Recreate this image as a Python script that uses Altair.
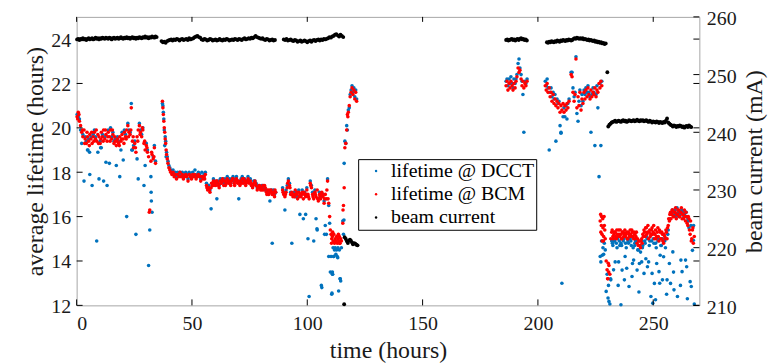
import altair as alt
import pandas as pd

# ---------------- data ----------------
# lifetime samples: (time [h], lifetime @ BCM [h], lifetime @ DCCT [h])
seg1 = [
    (0.2,20.5,20.6),(0.7,20.7,20.5),(1.2,20.3,20.4),(1.7,20.1,19.9),(2.2,19.8,19.3),(2.7,19.6,19.7),(3.2,19.9,17.6),(3.7,19.5,19.6),(4.2,19.3,19.4),(4.7,19.6,19.0),
    (5.2,19.4,19.5),(5.7,19.7,17.9),(6.2,19.5,19.6),(6.7,19.3,17.4),(7.2,19.6,19.7),(7.7,19.8,19.9),(8.2,19.5,19.6),(8.7,19.4,14.9),(9.2,19.7,18.9),(9.7,19.6,17.7),
    (10.2,19.3,19.4),(10.7,19.8,19.1),(11.2,19.6,19.7),(11.7,19.9,17.6),(12.2,19.5,19.6),(12.7,19.7,18.45),(13.2,19.4,17.4),(13.7,19.8,19.9),(14.2,19.6,18.4),(14.7,19.9,20.0),
    (15.2,19.5,19.6),(15.7,19.7,19.8),(16.2,19.3,19.4),(16.7,19.4,19.5),(17.2,19.2,18.3),(17.7,19.5,19.6),(18.2,19.3,19.4),(18.7,19.6,17.8),(19.2,19.4,19.0),(19.7,19.7,19.8),
    (20.2,19.5,18.55),(20.7,19.8,19.9),(21.2,19.6,19.7),(21.7,19.9,16.0),(22.2,20.1,20.2),(22.7,19.8,19.9),(23.2,19.7,19.8),(23.7,20.9,21.1),(24.2,19.4,19.0),(24.7,19.1,19.2),
    (25.2,19.3,19.4),(25.7,18.9,15.2),(26.2,19.6,18.6),(26.7,19.9,17.7),(27.2,20.1,20.2),(27.7,19.8,19.9),(28.2,19.6,19.7),(28.7,19.9,20.0),(29.2,19.3,17.4),(29.7,19.0,18.3),
    (30.2,19.2,19.3),(30.7,18.9,19.0),(31.2,18.7,13.8),(31.7,16.3,15.4),(32.2,18.5,17.8),(32.7,18.8,16.2),(33.2,18.6,18.7),(33.7,19.1,19.2),(34.2,18.4,18.5),
]
seg2 = [
    (37.2,21.2,21.1),(37.4,20.9,21.0),(37.6,20.6,20.7),(37.8,20.3,20.4),(38.0,20.0,19.9),(38.2,19.8,19.2),(38.4,19.5,19.6),(38.6,19.3,19.4),(38.8,19.0,18.7),(39.0,18.8,18.9),
    (39.3,18.6,18.7),(39.6,18.4,18.5),(40.0,18.2,18.3),(40.4,18.1,18.2),(40.8,18.0,18.1),(41.3,17.9,18.0),(41.8,18.0,18.1),(42.3,17.8,17.9),(42.8,17.9,18.0),(43.3,17.7,17.8),
    (43.8,17.9,18.0),(44.3,17.8,17.9),(44.8,18.0,18.0),(45.3,17.8,17.9),(45.8,17.9,18.0),(46.3,17.7,17.8),(46.8,17.8,17.9),(47.3,17.9,18.0),(47.8,17.8,17.9),(48.3,17.6,17.7),
    (48.8,17.9,18.0),(49.3,17.8,17.9),(49.8,17.7,17.8),(50.3,17.9,18.0),(50.8,17.8,17.9),(51.3,17.9,18.1),(51.8,17.7,17.8),(52.3,17.8,17.9),(52.8,17.9,18.0),(53.3,17.8,17.9),
    (53.8,17.6,17.7),(54.3,17.8,18.0),(54.8,17.7,17.8),
]
seg3 = [
    (55.3,17.8,17.9),(55.8,17.9,18.0),(56.3,17.4,17.5),(56.8,17.2,17.3),(57.3,17.3,17.4),(57.8,17.1,17.2),(58.3,17.3,16.35),(58.8,17.4,17.5),(59.3,17.6,17.7),(59.8,17.5,17.6),
    (60.3,17.4,17.5),(60.8,17.6,16.8),(61.3,17.5,17.6),(61.8,17.3,17.4),(62.3,17.6,17.7),(62.8,17.5,17.6),(63.3,17.7,17.7),(63.8,17.4,17.5),(64.3,17.6,17.7),(64.8,17.5,17.5),
    (65.3,17.7,17.8),(65.8,17.5,17.6),(66.3,17.6,17.7),(66.8,17.4,17.5),(67.3,17.6,17.7),(67.8,17.7,17.8),(68.3,17.5,17.6),(68.8,17.6,17.7),(69.3,17.7,17.8),(69.8,17.5,17.6),
    (70.3,17.6,16.8),(70.8,17.4,17.5),(71.3,17.6,17.7),(71.8,17.7,17.8),(72.3,17.5,17.6),(72.8,17.6,17.7),(73.3,17.4,17.5),(73.8,17.6,17.6),(74.3,17.7,17.8),(74.8,17.5,17.6),
    (75.3,17.6,17.7),(75.8,17.4,17.4),(76.3,17.3,17.4),(76.8,17.5,17.6),(77.3,17.6,17.6),(77.8,17.4,17.5),(78.3,17.2,17.3),(78.8,17.3,17.4),(79.3,17.4,17.3),(79.8,17.2,17.3),
    (80.3,17.3,17.4),(80.8,17.4,17.4),(81.3,17.2,17.3),(81.8,17.3,17.2),(82.3,17.1,17.2),(82.8,17.2,17.1),(83.3,17.0,17.1),(83.8,17.1,16.7),(84.3,17.2,17.2),(84.8,17.0,14.8),
    (85.3,17.1,17.2),(85.8,16.9,17.0),(86.3,17.1,17.1),
    (89.3,17.2,17.3),(89.8,17.0,17.1),(90.3,16.9,16.3),(90.8,17.1,17.2),(91.3,17.3,17.4),(91.8,17.6,17.7),(92.3,17.4,17.5),(92.8,17.0,17.1),(93.3,17.1,14.8),(93.8,16.9,17.0),
    (94.3,17.0,17.1),(94.8,17.2,16.9),(95.3,17.0,17.1),(95.8,16.8,16.9),(96.3,17.1,17.2),(96.8,17.0,16.1),(97.3,16.9,17.0),(97.8,17.1,17.2),(98.3,16.8,15.9),(98.8,17.0,17.1),
    (99.3,16.9,16.1),(99.8,17.2,17.3),(100.3,17.0,15.0),(100.8,16.8,12.4),(101.3,17.5,17.6),(101.8,17.3,17.4),(102.3,17.0,17.1),(102.8,16.8,14.9),(103.3,17.1,17.2),(103.8,16.9,15.9),
    (104.3,17.2,15.4),(104.8,16.7,16.8),(105.3,17.0,17.1),(105.8,16.8,16.9),(106.3,17.1,12.8),(106.8,16.9,17.0),(107.3,16.6,16.7),(107.8,17.0,15.6),(108.3,16.8,15.2),(108.8,17.6,17.7),
    (109.3,16.6,16.5),(109.7,16.0,15.7),(110.0,15.4,13.5),(110.3,15.2,14.2),(110.6,15.0,12.5),(110.9,15.1,13.4),(111.2,14.9,14.6),(111.5,15.2,14.2),(111.8,14.8,14.5),(112.1,15.0,14.6),
    (112.4,14.9,14.3),(112.7,15.1,14.5),(113.0,14.8,14.2),(113.3,15.0,14.6),(113.6,14.9,12.65),(113.9,15.1,14.5),(114.2,14.8,13.2),(114.5,15.0,13.1),(114.8,14.9,14.6),
]
rise = [
    (115.4,15.7,15.8),(115.7,16.5,15.2),(116.0,17.3,18.4),(116.3,19.1,19.4),(116.7,19.3,19.3),(117.1,19.9,20.1),(117.4,20.6,19.9),(117.8,20.7,20.8),(118.2,21.0,20.9),(118.6,21.4,21.5),
    (119.0,21.6,21.7),(119.4,21.8,21.9),(119.8,21.5,21.6),(120.2,21.7,21.8),(120.6,21.3,21.4),(121.0,21.6,21.7),(121.4,21.2,21.3),
]
seg4 = [
    (186.2,21.9,22.1),(186.6,22.1,22.2),(187.0,21.7,21.9),(187.5,22.0,22.2),(187.9,21.8,22.0),(188.3,22.1,22.3),(188.8,21.9,22.0),(189.2,21.7,21.8),(189.6,22.0,22.2),(190.1,21.8,22.0),
    (190.5,22.1,22.2),(190.9,22.3,22.4),(191.4,22.7,22.9),(191.8,22.5,23.1),(192.2,22.6,22.7),(192.7,22.2,22.4),(193.1,21.9,22.1),(193.5,22.1,21.5),(193.9,21.8,19.8),(194.4,22.0,22.1),
    (194.8,21.9,22.0),(195.3,22.1,22.2),
]
seg5 = [
    (203.2,21.9,22.1),(203.6,21.7,21.9),(204.0,22.0,22.2),(204.4,21.6,21.8),(204.9,21.8,19.0),(205.3,21.4,21.6),(205.7,21.6,21.8),(206.1,21.2,21.4),(206.6,21.5,21.6),(207.0,21.1,21.3),
    (207.4,21.3,21.5),(207.8,21.0,19.4),(208.3,21.2,21.3),(208.7,20.9,21.1),(209.1,21.1,21.2),(209.6,20.7,20.1),(210.0,21.0,19.8),(210.4,20.8,13.0),(210.9,21.1,20.5),(211.3,20.7,20.9),
    (211.7,21.0,20.5),(212.2,20.8,21.0),(212.6,21.1,20.4),(213.0,20.9,21.1),(213.5,21.2,21.3),
]
seg6 = [
    (214.4,22.4,22.5),(214.8,22.3,22.5),(215.2,21.6,21.8),(215.7,21.2,21.4),(216.1,21.5,21.6),(216.5,23.1,23.2),(216.9,20.9,20.65),(217.4,21.4,20.3),(217.8,21.0,21.2),(218.2,21.6,21.7),
    (218.7,20.8,21.0),(219.1,21.3,21.5),(219.5,21.1,21.2),(220.0,21.6,21.7),(220.4,21.3,21.5),(220.8,21.7,21.8),(221.3,21.4,21.6),(221.7,21.8,21.9),(222.1,21.5,21.6),(222.6,21.3,21.4),
    (223.0,21.7,19.8),(223.4,21.4,21.5),(223.9,21.6,21.8),(224.3,21.5,21.6),(224.7,21.8,19.2),(225.2,21.4,21.5),(225.6,21.7,21.9),(226.0,21.6,20.9),(226.5,22.0,17.8),(226.9,21.8,22.0),
    (227.3,22.1,19.2),(227.7,21.9,22.1),
]
seg7 = [
    (227.0,15.8,14.2),(227.3,15.3,13.96),(227.6,16.0,14.9),(227.9,14.9,14.26),(228.2,15.5,14.6),(228.5,15.1,14.3),(228.8,15.6,14.8),(229.2,15.0,14.5),(229.6,14.0,12.63),(230.0,13.6,13.4),
    (230.4,13.2,12.33),(230.8,13.8,12.18),(231.2,13.4,12.06),(231.6,15.0,13.15),(232.0,15.3,14.9),(232.5,15.1,14.7),(233.0,15.2,14.9),(233.5,15.3,13.96),(234.0,15.0,14.8),(234.5,15.2,15.0),
    (235.0,15.4,13.96),(235.5,15.1,14.7),(236.0,15.2,12.03),(236.5,15.0,13.59),(237.0,15.3,14.9),(237.5,15.2,13.15),(238.0,15.1,14.8),(238.5,15.3,13.67),(239.0,15.0,14.9),(239.5,15.2,12.85),
    (240.0,15.4,15.0),(240.5,15.1,14.7),(241.0,15.3,13.89),(241.5,15.0,14.04),(242.0,15.2,14.8),(242.5,15.1,14.9),(243.0,14.8,13.59),(243.5,14.7,14.5),(244.0,14.9,13.89),(244.5,14.6,14.4),
    (245.0,15.0,13.96),(245.5,15.2,14.7),(246.0,15.4,13.44),(246.5,15.1,14.8),(247.0,15.5,15.1),(247.5,15.3,13.74),(248.0,15.0,13.96),(248.5,15.4,14.9),(249.0,15.2,12.40),(249.5,15.5,13.44),
    (250.0,15.3,15.0),(250.5,15.0,12.99),(251.0,15.4,12.25),(251.5,15.1,13.89),(252.0,15.5,14.9),(252.5,14.9,13.52),(253.0,15.3,14.26),(253.5,15.0,14.7),(254.0,15.2,13.15),(254.5,14.8,14.19),
    (255.0,15.1,14.9),(255.5,15.4,15.0),(256.0,15.0,13.15),(256.5,15.6,15.4),(257.0,15.8,13.89),(257.5,16.2,12.99),(258.0,16.1,16.2),(258.5,16.3,14.41),(259.0,16.0,12.70),(259.5,16.2,16.3),
    (260.0,15.9,16.0),(260.5,16.1,12.40),(261.0,16.3,16.2),(261.5,16.0,16.1),(262.0,16.2,14.04),(262.5,15.9,13.52),(263.0,16.1,16.2),(263.5,16.3,16.1),(264.0,15.8,14.04),(264.5,16.0,13.74),
    (265.0,15.6,15.9),(265.5,15.9,15.5),(266.0,15.2,13.07),(266.5,14.9,12.85),(267.0,15.4,14.48),(267.4,14.8,14.93),(267.8,15.1,12.06),
]
# extra single readings (time, lifetime)
bcm_extra = [
    (0.45,20.4),(1.0,20.6),(2.5,19.9),(3.5,19.3),(4.5,19.8),(5.5,19.2),(6.5,19.8),(7.5,19.4),(8.5,19.9),(9.5,19.3),
    (10.5,19.5),(11.5,19.4),(12.5,19.9),(13.5,19.6),(14.5,19.4),(15.5,19.9),(16.5,19.6),(17.5,19.4),(18.5,19.2),(19.5,19.5),
    (20.5,19.3),(21.5,19.5),(22.5,19.6),(23.5,19.9),(24.5,19.6),(25.5,19.1),(26.5,19.4),(27.5,19.7),(28.5,20.0),(29.5,19.4),
    (30.5,19.1),(31.5,16.2),(32.5,18.9),(33.5,18.7),
    (55.5,17.7),(56.5,17.3),(57.5,17.2),(58.5,17.5),(59.5,17.4),(60.5,17.6),(61.5,17.4),(62.5,17.5),(63.5,17.6),(64.5,17.4),
    (65.5,17.6),(66.5,17.5),(67.5,17.7),(68.5,17.4),(69.5,17.6),(70.5,17.5),(71.5,17.5),(72.5,17.7),(73.5,17.5),(74.5,17.6),
    (75.5,17.5),(76.5,17.4),(77.5,17.5),(78.5,17.3),(79.5,17.3),(80.5,17.2),(81.5,17.4),(82.5,17.0),(83.5,17.2),(84.5,17.1),
    (85.5,17.0),(86.0,17.2),(89.5,17.1),(90.5,17.0),(91.5,17.5),(92.5,17.3),(93.5,17.0),(94.5,16.9),(95.5,17.1),(96.5,16.9),
    (97.5,17.0),(98.5,17.1),(99.5,17.0),(100.5,16.9),(101.5,17.4),(102.5,16.9),(103.5,17.0),(104.5,16.8),(105.5,16.9),(106.5,17.0),
    (107.5,16.8),(108.5,17.2),(109.0,16.8),
    (110.5,14.8),(111.0,15.3),(112.0,14.9),(113.5,15.2),(114.0,14.8),(115.5,16.3),(117.6,20.5),
    (227.2,16.1),(227.5,15.6),(227.8,15.2),(228.1,15.9),(228.4,14.9),(228.7,16.0),(229.0,15.4),(230.2,13.2),(230.5,13.9),(230.7,13.5),
    (232.2,15.4),(232.7,15.0),(233.2,15.3),(233.7,15.1),(234.2,15.4),(234.7,15.1),(235.2,15.2),(235.7,15.4),(236.2,15.0),(236.7,15.3),
    (237.2,15.1),(237.7,15.4),(238.2,15.2),(238.7,15.0),(239.2,15.3),(239.7,15.1),(240.2,15.2),(240.7,15.4),(241.2,15.1),(241.7,15.3),
    (242.2,15.0),(242.7,15.3),(243.2,15.0),(243.7,14.9),(244.2,14.7),(244.7,14.9),(245.2,14.8),(245.7,15.1),(246.2,15.3),(246.7,15.5),
    (247.2,15.2),(247.7,15.6),(248.2,15.3),(248.7,15.1),(249.2,15.4),(249.7,15.2),(250.2,15.6),(250.7,15.2),(251.2,15.0),(251.7,15.3),
    (252.2,15.1),(252.7,15.4),(253.2,15.0),(253.7,15.3),(254.2,14.9),(254.7,15.2),(255.2,15.0),(255.7,15.3),(256.2,15.5),(256.7,15.9),
    (257.2,16.1),(257.7,15.9),(258.2,16.3),(258.7,16.0),(259.2,16.2),(259.7,16.4),(260.2,16.1),(260.7,16.3),(261.2,16.0),(261.7,16.2),
    (262.2,16.4),(262.7,16.1),(263.2,15.9),(263.7,16.0),(264.2,16.2),(264.7,15.7),(265.2,16.0),(265.7,15.4),(266.2,15.8),(266.7,15.0),
    (267.2,15.5),
]
dcct_extra = [
    (32.3,17.1),(32.4,16.7),(5.6,18.9),(10.4,19.1),(23.9,19.0),(4.9,19.0),(107.5,15.2),(110.7,12.55),(111.0,13.4),(114.3,13.2),
    (109.3,14.2),(111.4,14.2),(113.2,14.15),(104.2,15.45),(106.1,12.9),(110.9,13.5),(115.9,15.85),(210.0,19.76),
    (233.0,15.0),(236.0,14.8),(239.0,15.0),(242.0,14.7),(245.0,14.9),(248.0,15.0),(251.0,14.8),(254.0,15.0),(231.5,13.2),(230.6,12.9),
    (232.3,14.8),(233.3,14.9),(234.3,14.6),(235.3,14.9),(236.3,14.7),(237.3,15.0),(238.3,14.6),(239.3,14.8),(240.3,14.9),(241.3,14.6),
    (242.3,14.9),(243.3,14.5),(244.3,14.7),(245.3,14.6),(246.3,14.9),(247.3,15.0),(248.3,14.7),(249.3,14.9),(250.3,14.8),(251.3,14.6),
    (252.3,15.0),(253.3,14.7),(254.3,14.9),(255.3,14.6),(256.3,15.2),(257.3,15.9),(258.3,16.3),(259.3,16.1),(260.3,16.4),(261.3,16.0),
    (262.3,16.3),(263.3,16.0),(264.3,16.2),(265.3,15.8),(266.3,15.6),
    (232.8,13.6),(234.8,12.9),(237.8,14.2),(240.8,13.3),(243.8,12.6),(246.8,14.1),(249.8,12.1),(252.8,13.0),(255.8,12.5),(258.8,13.5),
    (261.8,12.9),(264.8,12.3),(267.5,15.6),
]
# beam current samples: (time [h], current [mA])
beam_a = [
    (0.2,256.1),(0.7,256.2),(1.2,256.0),(1.7,256.2),(2.2,256.1),(2.7,256.3),(3.2,256.1),(3.7,256.2),(4.2,256.0),(4.7,256.2),
    (5.2,256.3),(5.7,256.1),(6.2,256.2),(6.7,256.3),(7.2,256.1),(7.7,256.2),(8.2,256.4),(8.7,256.2),(9.2,256.3),(9.7,256.1),
    (10.2,256.3),(10.7,256.2),(11.2,256.4),(11.7,256.3),(12.2,256.2),(12.7,256.4),(13.2,256.3),(13.7,256.2),(14.2,256.4),(14.7,256.3),
    (15.2,256.1),(15.7,256.3),(16.2,256.4),(16.7,256.2),(17.2,256.3),(17.7,256.4),(18.2,256.2),(18.7,256.3),(19.2,256.5),(19.7,256.3),
    (20.2,256.2),(20.7,256.4),(21.2,256.3),(21.7,256.5),(22.2,256.3),(22.7,256.4),(23.2,256.2),(23.7,256.4),(24.2,256.5),(24.7,256.3),
    (25.2,256.4),(25.7,256.2),(26.2,256.4),(26.7,256.3),(27.2,256.5),(27.7,256.4),(28.2,256.3),(28.7,256.5),(29.2,256.4),(29.7,256.6),
    (30.2,256.4),(30.7,256.5),(31.2,256.3),(31.7,256.5),(32.2,256.4),(32.7,256.6),(33.2,256.5),(33.7,256.4),(34.2,256.6),(34.7,256.5),
]
beam_b = [
    (36.8,255.8),(37.4,255.6),(38.0,255.7),(38.6,255.5),(39.2,255.8),(39.8,255.9),
    (40.4,256.0),(41.0,256.1),(41.6,255.9),(42.2,256.1),(42.8,256.0),(43.4,256.2),(44.0,256.1),(44.6,255.9),(45.2,256.1),(45.8,256.2),
    (46.4,256.0),(47.0,256.1),(47.6,256.2),(48.2,256.0),(48.8,256.3),(49.4,256.1),(50.0,256.2),(50.6,256.3),
    (51.2,256.5),(51.8,256.6),(52.4,256.7),(53.0,256.5),(53.6,256.4),
    (54.2,256.1),(54.8,256.0),(55.4,256.2),(56.0,256.1),(56.6,255.9),(57.2,256.0),(57.8,256.2),(58.4,256.1),(59.0,255.9),(59.6,256.0),
    (60.2,256.1),(60.8,255.9),(61.4,256.0),(62.0,256.2),(62.6,256.0),(63.2,255.9),(63.8,256.1),(64.4,256.0),(65.0,256.2),(65.6,256.1),
    (66.2,255.9),(66.8,256.0),(67.4,256.1),(68.0,256.0),(68.6,256.2),(69.2,256.1),(69.8,256.0),(70.4,256.2),(71.0,256.1),(71.6,256.0),
    (72.2,256.2),(72.8,256.3),(73.4,256.1),(74.0,256.2),
    (74.6,256.3),(75.2,256.2),(75.8,256.4),(76.4,256.3),(77.0,256.5),(77.6,256.7),(78.2,256.5),(78.8,256.4),(79.4,256.3),(80.0,256.2),(80.6,256.3),
    (81.2,256.1),(81.8,256.0),(82.4,256.2),(83.0,256.1),(83.6,255.9),(84.2,256.0),(84.8,256.1),(85.4,255.9),(86.0,256.0),
    (89.8,256.1),(90.4,256.0),(91.0,256.2),(91.6,255.9),(92.2,256.0),(92.8,256.1),(93.4,255.9),(94.0,255.8),(94.6,256.0),(95.2,255.9),
    (95.8,255.7),(96.4,255.8),(97.0,255.9),(97.6,255.7),(98.2,255.8),(98.8,255.9),(99.4,255.8),(100.0,255.6),(100.6,255.8),(101.2,255.9),
    (101.8,255.7),(102.4,255.9),(103.0,256.0),(103.6,255.8),(104.2,256.0),(104.8,256.1),(105.4,255.9),(106.0,256.1),(106.6,256.0),(107.2,256.2),
    (107.8,256.1),(108.4,256.2),
    (109.0,256.3),(109.6,256.5),(110.2,256.4),(110.8,256.6),(111.4,256.7),(112.0,256.9),(112.6,257.0),(113.2,256.8),(113.8,256.6),(114.4,256.9),
    (115.0,256.7),(115.6,256.5),
]
beam_c = [
    (116.0,210.2),(116.2,221.8),(116.7,221.5),(117.2,221.1),(117.6,220.8),(118.0,221.2),(118.5,221.4),(118.9,221.2),(119.4,220.9),(119.8,220.6),
    (120.3,220.8),(120.8,220.7),(121.3,220.5),(121.8,220.4),
]
beam_d = [
    (186.2,256.0),(186.7,256.1),(187.2,255.9),(187.7,256.0),(188.2,256.1),(188.7,256.2),(189.2,256.0),(189.7,256.1),(190.2,255.9),(190.7,256.1),
    (191.2,256.2),(191.7,256.0),(192.2,256.2),(192.7,256.3),(193.2,256.1),(193.7,256.2),(194.2,256.0),(194.7,256.1),(195.2,255.9),
]
beam_e = [
    (203.9,255.6),(204.4,255.5),(204.9,255.7),(205.4,255.6),(205.9,255.8),(206.4,255.7),(206.9,255.6),(207.4,255.8),(207.9,255.7),(208.4,255.9),
    (208.9,255.8),(209.4,255.7),(209.9,255.9),(210.4,255.8),(210.9,256.0),(211.4,255.9),(211.9,255.8),(212.4,256.0),(212.9,255.9),(213.4,256.1),
    (213.9,256.0),
]
beam_f = [
    (214.4,255.9),(214.9,256.0),(215.4,256.2),(215.9,256.3),(216.4,256.2),(216.9,256.4),(217.4,256.3),(217.9,256.2),(218.4,256.3),(218.9,256.2),
    (219.4,256.3),(219.9,256.1),(220.4,256.2),(220.9,256.1),(221.4,256.0),(221.9,256.1),(222.4,255.9),(222.9,256.0),(223.4,255.9),(223.9,255.8),
    (224.4,255.9),(224.9,255.7),(225.4,255.8),(225.9,255.6),(226.4,255.7),(226.9,255.5),(227.4,255.6),(227.9,255.4),(228.4,255.5),(228.9,255.3),
    (229.4,255.4),(230.1,250.4),
]
beam_g = [
    (230.5,241.0),(231.0,241.3),(231.5,241.5),(232.0,241.7),
    (232.5,241.8),(233.0,241.9),(233.5,242.0),(234.0,241.8),(234.5,241.9),(235.0,242.0),(235.5,241.9),(236.0,241.8),(236.5,242.0),(237.0,242.1),
    (237.5,241.9),(238.0,242.0),(238.5,241.8),(239.0,241.9),(239.5,242.1),(240.0,242.0),(240.5,241.9),(241.0,242.0),(241.5,242.1),(242.0,241.9),
    (242.5,242.0),(243.0,242.2),(243.5,242.0),(244.0,241.9),(244.5,242.1),(245.0,242.0),(245.5,242.1),(246.0,241.9),(246.5,242.0),(247.0,242.1),
    (247.5,241.9),(248.0,241.8),(248.5,242.0),(249.0,241.9),(249.5,241.7),(250.0,241.9),(250.5,241.8),(251.0,241.7),(251.5,241.9),(252.0,241.8),
    (252.5,241.6),(253.0,241.8),(253.5,241.7),(254.0,241.6),(254.5,241.8),(255.0,241.7),
    (255.5,242.0),(256.0,242.4),(256.5,241.7),(257.0,241.5),
    (257.5,241.3),(258.0,241.2),(258.5,241.0),(259.0,241.2),(259.5,241.1),(260.0,240.9),(260.5,241.1),(261.0,241.0),(261.5,241.2),(262.0,241.1),
    (262.5,240.9),(263.0,241.0),(263.5,240.8),(264.0,241.0),(264.5,241.1),(265.0,240.9),(265.5,241.2),(266.0,241.0),(266.5,240.9),
]

# trailing no-break spaces only widen the legend box, as in the reference
series_names = ["lifetime @ DCCT\u00a0\u00a0\u00a0", "lifetime @ BCM\u00a0\u00a0\u00a0", "beam current\u00a0\u00a0\u00a0"]
series_colors = ["#0072BD", "#FF0000", "#000000"]
x_ticks = [0, 50, 100, 150, 200, 250]
left_ticks = [12, 14, 16, 18, 20, 22, 24]
right_ticks = [210, 220, 230, 240, 250, 260]

# ---------------- tables ----------------
life = seg1 + seg2 + seg3 + rise + seg4 + seg5 + seg6 + seg7
dcct_df = pd.DataFrame({
    "t": [r[0] for r in life] + [e[0] for e in dcct_extra],
    "v": [r[2] for r in life] + [e[1] for e in dcct_extra],
})
dcct_df["series"] = series_names[0]
bcm_df = pd.DataFrame({
    "t": [r[0] for r in life] + [e[0] for e in bcm_extra],
    "v": [r[1] for r in life] + [e[1] for e in bcm_extra],
})
bcm_df["series"] = series_names[1]
beam = beam_a + beam_b + beam_c + beam_d + beam_e + beam_f + beam_g
beam_df = pd.DataFrame({"t": [b[0] for b in beam], "v": [b[1] for b in beam]})
beam_df["series"] = series_names[2]

W, H = 626, 290
FONT = "Liberation Serif"
DOT = 13
xs = alt.Scale(domain=[0, 270], nice=False, zero=False)
yl = alt.Scale(domain=[12, 25], nice=False, zero=False)
yr = alt.Scale(domain=[210, 260], nice=False, zero=False)

color = alt.Color(
    "series:N",
    scale=alt.Scale(domain=series_names, range=series_colors),
    legend=alt.Legend(
        title=None, orient="none", legendX=283, legendY=143,
        fillColor="white", strokeColor="black",
        padding=2, rowPadding=3.3, symbolType="circle", symbolSize=6,
        symbolOffset=6, labelOffset=5, labelFont=FONT, labelFontSize=20,
        labelColor="#000000", labelLimit=0,
    ),
)

AX = dict(ticks=False, domain=False, grid=False,
          labelFont=FONT, labelFontSize=20, labelColor="#1a1a1a",
          titleFont=FONT, titleFontSize=24, titleColor="#1a1a1a", titleFontWeight="normal")
x_axis = alt.Axis(values=x_ticks, format="d", labelPadding=8,
                  title="time (hours)", titlePadding=5, **AX)
l_axis = alt.Axis(values=left_ticks, labelPadding=6, labelOffset=1,
                  title="average lifetime (hours)", titlePadding=3, **AX)
r_axis = alt.Axis(orient="right", values=right_ticks, labelPadding=7, labelOffset=2,
                  title="beam current (mA)", titleAngle=270,
                  titleBaseline="top", titlePadding=6, **AX)

dcct = alt.Chart(dcct_df).mark_circle(size=DOT, opacity=1).encode(
    x=alt.X("t:Q", scale=xs, axis=x_axis),
    y=alt.Y("v:Q", scale=yl, axis=l_axis),
    color=color,
)
bcm = alt.Chart(bcm_df).mark_circle(size=DOT, opacity=1).encode(
    x=alt.X("t:Q", scale=xs, axis=x_axis),
    y=alt.Y("v:Q", scale=yl, axis=l_axis),
    color=color,
)
xt = pd.DataFrame({"v": x_ticks})
lt = pd.DataFrame({"v": left_ticks})
rt = pd.DataFrame({"v": right_ticks})
tick_bottom = alt.Chart(xt).mark_rule(color="black", strokeWidth=1).encode(
    x=alt.X("v:Q", scale=xs, axis=x_axis), y=alt.value(H - 6), y2=alt.value(H))
tick_top = alt.Chart(xt).mark_rule(color="black", strokeWidth=1).encode(
    x=alt.X("v:Q", scale=xs, axis=x_axis), y=alt.value(0), y2=alt.value(5))
tick_left = alt.Chart(lt).mark_rule(color="black", strokeWidth=1).encode(
    y=alt.Y("v:Q", scale=yl, axis=l_axis), x=alt.value(0), x2=alt.value(6))
tick_left_mirror = alt.Chart(lt).mark_rule(color="black", strokeWidth=1).encode(
    y=alt.Y("v:Q", scale=yl, axis=l_axis), x=alt.value(W - 6), x2=alt.value(W))

left_group = alt.layer(dcct, bcm, tick_bottom, tick_top, tick_left, tick_left_mirror)

beam_pts = alt.Chart(beam_df).mark_circle(size=DOT + 2, opacity=1).encode(
    x=alt.X("t:Q", scale=xs, axis=x_axis),
    y=alt.Y("v:Q", scale=yr, axis=r_axis),
    color=color,
)
tick_right = alt.Chart(rt).mark_rule(color="black", strokeWidth=1).encode(
    y=alt.Y("v:Q", scale=yr, axis=r_axis), x=alt.value(W - 6), x2=alt.value(W))
right_group = alt.layer(beam_pts, tick_right)

chart = (
    alt.layer(left_group, right_group)
    .resolve_scale(y="independent")
    .properties(
        width=W, height=H,
        background="white",
        autosize=alt.AutoSizeParams(type="none"),
        padding={"left": 69, "top": 8, "right": 69, "bottom": 58},
    )
    .configure_view(stroke="#a6a6a6", strokeWidth=1)
    .configure_legend(labelFont=FONT)
)

chart.save("out.html", embed_options={"renderer": "svg", "actions": False})
